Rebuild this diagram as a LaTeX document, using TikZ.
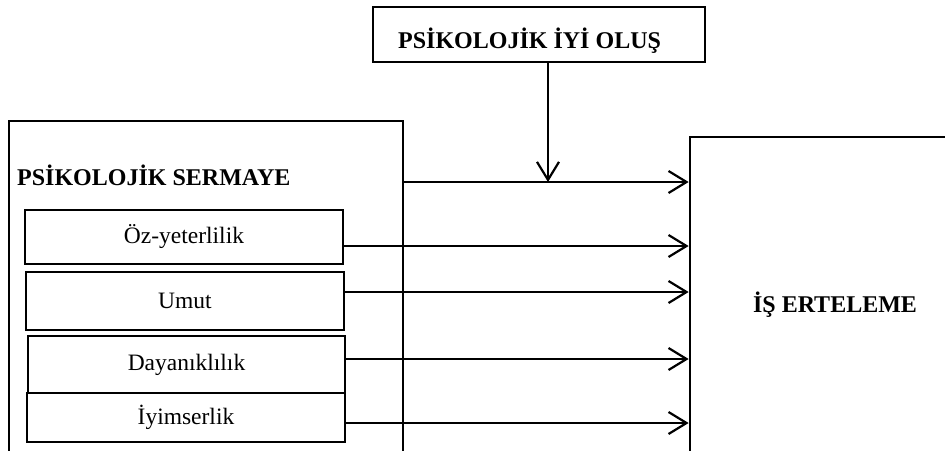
\documentclass[tikz,border=0pt]{standalone}
\usepackage{fontspec}
\setmainfont{Liberation Serif}
\usetikzlibrary{arrows.meta}
\newcommand\fsz{\fontsize{23.5}{28}\selectfont}
\newcommand\fszb{\fontsize{24}{28}\selectfont\bfseries}
\begin{document}
\begin{tikzpicture}[x=1pt,y=-1pt,
  font=\fsz,
  bigbox/.style={draw, line width=2.7pt, inner sep=0pt},
  subbox/.style={draw, line width=1.4pt, inner sep=0pt},
  title/.style={font=\fszb, inner sep=0pt},
  arr/.style={line width=2.2pt, -{Straight Barb[length=18pt,width=22pt]}}]
\useasboundingbox (0,0) rectangle (945,450);
\clip (0,0) rectangle (945,450);
% boxes
\node[bigbox, minimum width=332pt, minimum height=55pt] (iyi) at (539,34.5) {};
\node[title, anchor=base west] (iyit) at (398,48) {PSİKOLOJİK İYİ OLUŞ};
\node[bigbox, minimum width=394pt, minimum height=359pt] (ps) at (206,300.5) {};
\node[title, anchor=base west] (pst) at (17,185) {PSİKOLOJİK SERMAYE};
\node[bigbox, font=\fszb, minimum width=290pt, minimum height=336pt] (is) at (835,305) {İŞ ERTELEME};
\node[subbox, minimum width=318pt, minimum height=54pt] (oz) at (184,237) {Öz-yeterlilik};
\node[subbox, minimum width=318pt, minimum height=58pt] (um) at (185,301) {Umut};
\node[subbox, minimum width=317pt, minimum height=57pt] (da) at (186.5,364.5) {Dayanıklılık};
\node[subbox, minimum width=318pt, minimum height=49pt] (iy) at (186,417.5) {İyimserlik};
% arrow levels
\coordinate (y0) at (0,182);
\coordinate (y1) at (0,246);
\coordinate (y2) at (0,292);
\coordinate (y3) at (0,359);
\coordinate (y4) at (0,423);
% connectors
\draw[arr] (ps.east |- y0) -- (is.west |- y0);
\draw[arr] ([xshift=9pt]iyi.south) -- ([xshift=9pt]iyi.south |- y0);
\draw[arr] (oz.east |- y1) -- (is.west |- y1);
\draw[arr] (um.east |- y2) -- (is.west |- y2);
\draw[arr] (da.east |- y3) -- (is.west |- y3);
\draw[arr] (iy.east |- y4) -- (is.west |- y4);
\end{tikzpicture}
\end{document}
